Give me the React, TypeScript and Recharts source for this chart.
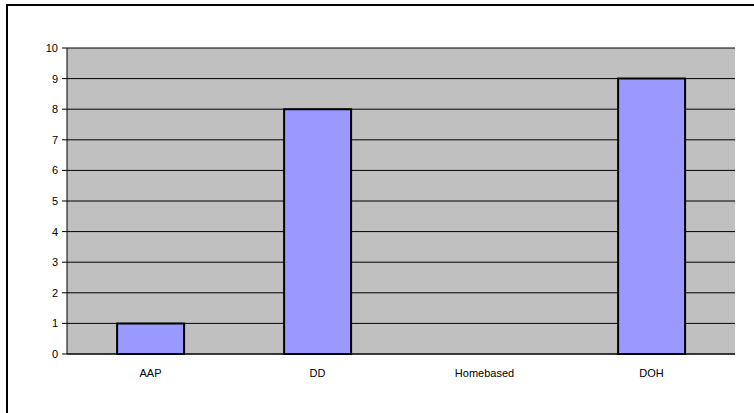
import { BarChart, Bar, XAxis, YAxis, CartesianGrid } from "recharts";

// values
const CATEGORIES = ["AAP", "DD", "Homebased", "DOH"];
const COUNTS = [1, 8, 0, 9];
const Y_TICKS = [0, 1, 2, 3, 4, 5, 6, 7, 8, 9, 10];
const EDGE_TICKS = [0, 1, 2, 3, 4];

const BAR_FILL = "#9999FF";
const PLOT_BG = "#C0C0C0";
const FRAME_GRAY = "#808080";
const FONT = "'Liberation Sans', Arial, sans-serif";

export default function App() {
  const data = CATEGORIES.map((name, i) => ({ name, count: COUNTS[i] }));

  return (
    <div
      style={{
        position: "fixed",
        left: 0,
        top: 0,
        width: 754,
        height: 413,
        background: "#fff",
        overflow: "hidden",
        fontFamily: FONT,
      }}
    >
      {/* outer chart frame, only top/left edges fall inside the picture */}
      <div
        style={{
          position: "absolute",
          left: 6,
          top: 4,
          width: 800,
          height: 450,
          borderLeft: "2px solid #000",
          borderTop: "2px solid #000",
        }}
      />
      <div style={{ position: "absolute", left: 0, top: 0 }}>
        <BarChart
          width={754}
          height={413}
          data={data}
          margin={{ top: 48, right: 19, bottom: 29, left: 0 }}
          barCategoryGap="30%"
        >
          <CartesianGrid fill={PLOT_BG} fillOpacity={1} vertical={false} stroke="#000" strokeOpacity={1} />
          <YAxis
            domain={[0, 10]}
            ticks={Y_TICKS}
            interval={0}
            width={67}
            tickSize={5}
            tickMargin={4}
            axisLine={{ stroke: "#000" }}
            tickLine={{ stroke: "#000" }}
            tick={{ fontSize: 11, fill: "#000", fontFamily: FONT }}
          />
          <YAxis
            yAxisId="frame"
            orientation="right"
            width={0}
            tick={false}
            tickLine={false}
            axisLine={{ stroke: FRAME_GRAY, strokeWidth: 2 }}
          />
          <XAxis
            dataKey="name"
            height={30}
            tickLine={false}
            tickSize={0}
            tickMargin={15}
            axisLine={{ stroke: "#000" }}
            tick={{ fontSize: 11, fill: "#000", fontFamily: FONT }}
          />
          <XAxis
            xAxisId="edges"
            type="number"
            domain={[0, 4]}
            ticks={EDGE_TICKS}
            height={0}
            tickSize={5}
            axisLine={false}
            tickLine={{ stroke: "#000" }}
            tickFormatter={() => ""}
          />
          <XAxis
            xAxisId="frame"
            orientation="top"
            height={0}
            tick={false}
            tickLine={false}
            axisLine={{ stroke: FRAME_GRAY, strokeWidth: 2 }}
          />
          <Bar dataKey="count" fill={BAR_FILL} stroke="#000" strokeWidth={2} isAnimationActive={false} />
        </BarChart>
      </div>
    </div>
  );
}
